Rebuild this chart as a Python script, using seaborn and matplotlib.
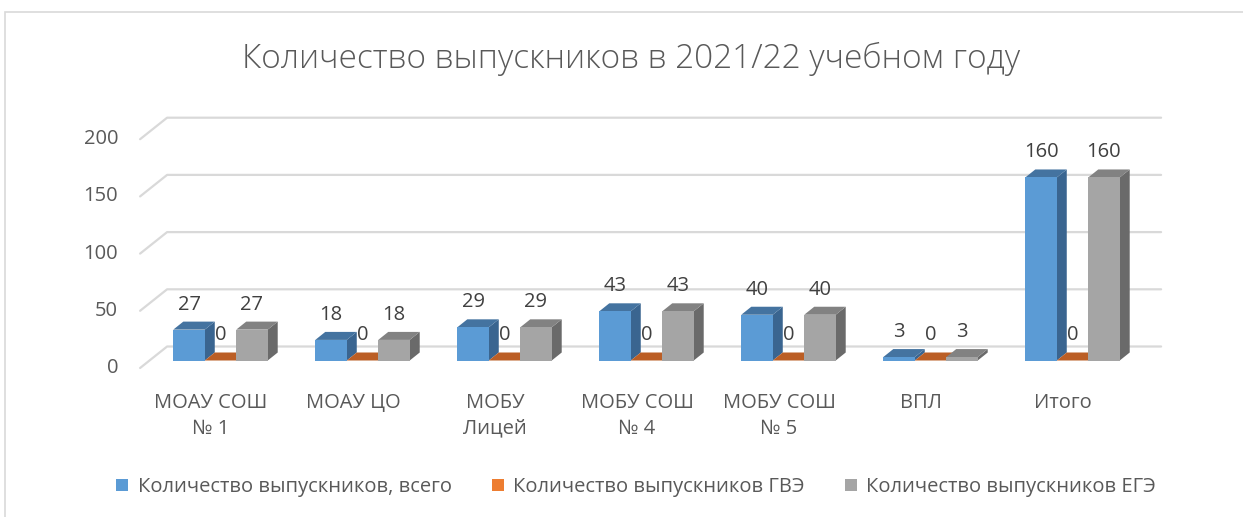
import numpy as np
import pandas as pd
import seaborn as sns
import matplotlib
matplotlib.use("Agg")
import matplotlib.pyplot as plt
import matplotlib.transforms as mtransforms
from matplotlib.patches import Polygon, Rectangle, Patch
from matplotlib.lines import Line2D

# ---------------- data ----------------
categories = ["МОАУ СОШ\n№ 1", "МОАУ ЦО", "МОБУ\nЛицей", "МОБУ СОШ\n№ 4",
              "МОБУ СОШ\n№ 5", "ВПЛ", "Итого"]
series_names = ["Количество выпускников, всего",
                "Количество выпускников ГВЭ",
                "Количество выпускников ЕГЭ"]
total_vals = [27, 18, 29, 43, 40, 3, 160]
gve_vals = [0, 0, 0, 0, 0, 0, 0]
ege_vals = [27, 18, 29, 43, 40, 3, 160]
y_ticks = [0, 50, 100, 150, 200]
title = "Количество выпускников в 2021/22 учебном году"

# ---------------- styles ----------------
front_colors = ["#5b9bd5", "#ed7d31", "#a5a5a5"]
top_colors = ["#4473a0", "#bb5e25", "#828282"]
side_colors = ["#3a6590", "#a4501c", "#6a6a6a"]
grid_color = "#d9d9d9"
text_color = "#595959"
label_color = "#404040"
FONT = ["Open Sans", "DejaVu Sans"]

sns.set_theme(style="white")
plt.rcParams["font.family"] = FONT

W, H = 1243, 517
fig = plt.figure(figsize=(W / 100, H / 100), dpi=100)
fig.patch.set_facecolor("white")

# bar plane axes (pixel geometry of the reference)
ax = fig.add_axes([149.5 / W, (H - 360.5) / H, 994 / W, 228.8 / H])
ax.set_facecolor("none")

df = pd.DataFrame({
    "cat": categories * 3,
    "series": [series_names[0]] * len(categories) + [series_names[1]] * len(categories)
              + [series_names[2]] * len(categories),
    "val": total_vals + gve_vals + ege_vals,
})

sns.barplot(data=df, x="cat", y="val", hue="series", order=categories,
            hue_order=series_names, palette=front_colors, saturation=1,
            width=0.665, gap=0, legend=False, ax=ax, linewidth=0,
            errorbar=None)
ax.set_xlim(-0.5, len(categories) - 0.5)
ax.set_ylim(0, 200)
ax.axis("off")

# depth offsets in pixels (display)
FRONT = np.array([-9.4, -7.5])   # front plane relative to bar plane
BACK = np.array([17.6, 14.0])    # back wall relative to bar plane
DEPTH = np.array([10.0, 8.0])    # bar depth

ident = mtransforms.IdentityTransform()


def disp(x, y, off=(0, 0)):
    p = ax.transData.transform((x, y))
    return p + np.asarray(off)


# gridlines: back wall + left side wall
x0, x1 = ax.get_xlim()
for yv in y_ticks:
    a = disp(x0, yv, FRONT)
    b = disp(x0, yv, BACK)
    c = disp(x1, yv, BACK)
    ax.add_line(Line2D([a[0], b[0], c[0]], [a[1], b[1], c[1]], color=grid_color,
                       lw=1.6, transform=ident, clip_on=False, zorder=0.5))

# y tick labels (front plane)
for yv in y_ticks:
    p = disp(x0, yv, FRONT)
    ax.text(p[0] - 22, p[1], f"{yv}", transform=ident, ha="right", va="center",
            fontsize=14.5, color=text_color, clip_on=False)

# category labels (front plane)
for i, cat in enumerate(categories):
    p = disp(i, 0, FRONT)
    ax.text(p[0], p[1] - 25, cat, transform=ident, ha="center", va="top",
            fontsize=14.5, color=text_color, linespacing=1.38, clip_on=False)

# 3D faces for each bar, drawn left to right
bars = list(ax.patches)
n = len(categories)
info = []
for k, p in enumerate(bars):
    info.append((p.get_x(), k // n, p))
info.sort(key=lambda t: t[0])
for rank, (bx, s, p) in enumerate(info):
    w = p.get_width()
    h = p.get_height()
    fr = disp(bx + w, 0)
    tl = disp(bx, h)
    tr = disp(bx + w, h)
    top = Polygon([tl, tr, tr + DEPTH, tl + DEPTH], closed=True, transform=ident,
                  facecolor=top_colors[s], edgecolor="none", zorder=2 + rank * 0.01)
    side = Polygon([fr, tr, tr + DEPTH, fr + DEPTH], closed=True, transform=ident,
                   facecolor=side_colors[s], edgecolor="none", zorder=2 + rank * 0.01)
    ax.add_patch(side)
    ax.add_patch(top)
    p.set_zorder(2.005 + rank * 0.01)
    ax.annotate(f"{h:g}", xy=(bx + w / 2, h), xytext=(0, 25),
                textcoords="offset pixels", ha="center", va="center",
                fontsize=14.5, color=label_color, annotation_clip=False,
                zorder=5)

# title
fig.text(631 / W, 1 - 59 / H, title, ha="center", va="center", fontsize=24,
         color=text_color, fontweight="light")

# legend
handles = [Patch(facecolor=c, edgecolor="none") for c in front_colors]
fig.legend(handles, series_names, loc="center", bbox_to_anchor=(636 / W, 1 - 487 / H),
           ncol=3, frameon=False, fontsize=14.5, handlelength=0.6, handleheight=0.6,
           handletextpad=0.45, columnspacing=2.0, labelcolor=text_color)

# chart frame
fig.patches.append(Rectangle((5, -20), W + 20, H - 12 + 20, transform=ident,
                             fill=False, edgecolor=grid_color, lw=1.2, zorder=0))

fig.savefig("out.png", dpi=100, facecolor="white")
